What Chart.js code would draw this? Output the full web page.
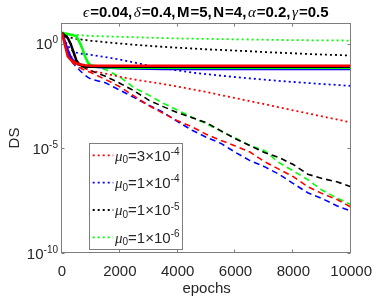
<!DOCTYPE html>
<html>
<head>
<meta charset="utf-8">
<script src="https://cdn.jsdelivr.net/npm/chart.js@4.4.1/dist/chart.umd.min.js"></script>
<style>
  body { margin: 0; background: #fff; }
  #wrap { width: 382px; height: 298px; }
</style>
</head>
<body>
<div id="wrap"><canvas id="dsChart" width="382" height="298"></canvas></div>
<script>
const epochs = [0, 100, 200, 300, 400, 500, 600, 700, 800, 900, 1000, 1500, 2000, 2500, 3000,
  3500, 4000, 4500, 5000, 5500, 6000, 6500, 7000, 7500, 8000, 8500, 9000, 9500, 10000];

// solid lines
const redSolid = [0.53, -0.05, -0.60, -0.76, -0.85, -0.92, -0.97, -1.00, -1.02, -1.03, -1.04, -1.04, -1.04, -1.04, -1.04,
  -1.04, -1.04, -1.04, -1.04, -1.04, -1.04, -1.04, -1.04, -1.04, -1.04, -1.04, -1.04, -1.04, -1.04];
const blueSolid = [0.53, 0.10, -0.30, -0.65, -0.82, -0.92, -0.98, -1.02, -1.05, -1.07, -1.08, -1.13, -1.16, -1.18, -1.19,
  -1.20, -1.20, -1.20, -1.20, -1.20, -1.20, -1.20, -1.20, -1.20, -1.20, -1.20, -1.20, -1.20, -1.20];
const blackSolid = [0.53, 0.40, 0.28, 0.00, -0.40, -0.80, -0.98, -1.05, -1.08, -1.09, -1.09, -1.09, -1.09, -1.09, -1.09,
  -1.09, -1.09, -1.09, -1.09, -1.09, -1.09, -1.09, -1.09, -1.09, -1.09, -1.09, -1.09, -1.09, -1.09];
const greenSolid = [0.53, 0.50, 0.47, 0.44, 0.41, 0.36, 0.10, -0.21, -0.60, -0.90, -1.03, -1.12, -1.14, -1.14, -1.14,
  -1.14, -1.14, -1.14, -1.14, -1.14, -1.14, -1.14, -1.14, -1.14, -1.14, -1.14, -1.14, -1.14, -1.14];

// dotted lines (the ones in the legend)
const redDotted = [0.53, 0.15, -0.25, -0.55, -0.78, -0.95, -1.05, -1.12, -1.18, -1.23, -1.28, -1.42, -1.57, -1.70, -1.81,
  -1.92, -2.04, -2.17, -2.30, -2.45, -2.59, -2.74, -2.88, -3.03, -3.18, -3.32, -3.47, -3.61, -3.76];
const blueDotted = [0.53, 0.15, -0.08, -0.27, -0.36, -0.42, -0.45, -0.47, -0.49, -0.50, -0.52, -0.63, -0.75, -0.89, -1.04,
  -1.16, -1.27, -1.37, -1.45, -1.52, -1.59, -1.65, -1.71, -1.77, -1.82, -1.87, -1.92, -1.96, -2.01];
const blackDotted = [0.53, 0.42, 0.35, 0.30, 0.27, 0.24, 0.22, 0.20, 0.19, 0.17, 0.15, 0.08, 0.02, -0.04, -0.09,
  -0.14, -0.18, -0.22, -0.26, -0.29, -0.32, -0.35, -0.39, -0.42, -0.45, -0.48, -0.51, -0.53, -0.56];
const greenDotted = [0.55, 0.50, 0.47, 0.45, 0.44, 0.43, 0.42, 0.41, 0.40, 0.39, 0.38, 0.36, 0.34, 0.32, 0.30,
  0.28, 0.26, 0.25, 0.24, 0.23, 0.22, 0.21, 0.20, 0.19, 0.18, 0.175, 0.17, 0.165, 0.16];

// dashed lines
const redDashed = [0.53, -0.05, -0.55, -0.80, -0.95, -1.05, -1.13, -1.20, -1.26, -1.32, -1.37, -1.70, -2.05, -2.50, -2.95,
  -3.32, -3.68, -3.97, -4.33, -4.62, -4.88, -5.17, -5.63, -5.99, -6.35, -6.83, -7.16, -7.43, -7.81];
const blueDashed = [0.53, 0.10, -0.40, -0.70, -0.95, -1.10, -1.25, -1.38, -1.50, -1.60, -1.68, -1.86, -2.21, -2.57, -2.93,
  -3.27, -3.72, -4.13, -4.47, -4.76, -5.19, -5.58, -5.87, -6.23, -6.68, -7.12, -7.40, -7.74, -8.00];
const blackDashed = [0.53, 0.40, 0.28, 0.00, -0.40, -0.80, -0.98, -1.08, -1.15, -1.22, -1.28, -1.55, -1.88, -2.25, -2.69,
  -3.00, -3.29, -3.53, -3.77, -4.16, -4.54, -4.86, -5.19, -5.43, -5.77, -6.23, -6.44, -6.59, -6.83];
const greenDashed = [0.53, 0.50, 0.47, 0.44, 0.41, 0.36, 0.10, -0.21, -0.60, -0.90, -1.05, -1.22, -1.58, -2.10, -2.45,
  -2.84, -3.17, -3.51, -3.82, -4.18, -4.50, -4.86, -5.10, -5.67, -6.08, -6.49, -7.00, -7.36, -7.69];

// legend: mu_0 = mantissa x 10^exponent
const muMantissa = ['3', '1', '1', '1'];
const muExponent = ['-4', '-4', '-5', '-6'];

const xTicks = [0, 2000, 4000, 6000, 8000, 10000];
const yTicks = [1e-10, 1e-5, 1];

const titleParts = [['ϵ', '=0.04,'], ['δ', '=0.4,'], ['M', '=5,'], ['N', '=4,'], ['α', '=0.2,'], ['γ', '=0.5']];

const SANS = '"Liberation Sans", Arial, Helvetica, sans-serif';
const SERIF = '"Liberation Serif", "Times New Roman", serif';
const TEXT = '#262626';
const AXIS = '#7d7d7d';

function toPoints(logs) {
  return logs.map((v, i) => ({ x: epochs[i], y: Math.pow(10, v) }));
}

const solidDash = [];
const dotDash = [2, 3];
const dashDash = [6, 4];

// first dataset is drawn on top
const datasets = [
  { data: toPoints(redSolid), borderColor: '#ff0000', borderWidth: 2.5, borderDash: solidDash },
  { data: toPoints(blackSolid), borderColor: '#000000', borderWidth: 2.5, borderDash: solidDash },
  { data: toPoints(greenSolid), borderColor: '#00ff00', borderWidth: 2.5, borderDash: solidDash },
  { data: toPoints(blueSolid), borderColor: '#0000ff', borderWidth: 2.5, borderDash: solidDash },
  { data: toPoints(redDotted), borderColor: '#ff0000', borderWidth: 1.8, borderDash: dotDash, legend: 0 },
  { data: toPoints(blueDotted), borderColor: '#0000ff', borderWidth: 1.8, borderDash: dotDash, legend: 1 },
  { data: toPoints(blackDotted), borderColor: '#000000', borderWidth: 1.8, borderDash: dotDash, legend: 2 },
  { data: toPoints(greenDotted), borderColor: '#00ff00', borderWidth: 1.8, borderDash: dotDash, legend: 3 },
  { data: toPoints(redDashed), borderColor: '#ff0000', borderWidth: 1.6, borderDash: dashDash },
  { data: toPoints(blueDashed), borderColor: '#0000ff', borderWidth: 1.6, borderDash: dashDash },
  { data: toPoints(blackDashed), borderColor: '#000000', borderWidth: 1.6, borderDash: dashDash },
  { data: toPoints(greenDashed), borderColor: '#00ff00', borderWidth: 1.6, borderDash: dashDash }
];

// box, inward ticks, y labels with exponents, legend and title (matlab look)
const matlabFrame = {
  id: 'matlabFrame',
  afterDatasetsDraw(chart) {
    const { ctx, chartArea: a, scales: { x, y } } = chart;
    ctx.save();

    // axes box
    const L = Math.round(a.left) - 0.5, R = Math.round(a.right) - 0.5;
    const T = Math.round(a.top) + 0.5, B = Math.round(a.bottom) - 0.5;
    ctx.strokeStyle = AXIS;
    ctx.lineWidth = 1;
    ctx.setLineDash([]);
    ctx.strokeRect(L, T, R - L, B - T);

    ctx.beginPath();
    xTicks.forEach(v => {
      const px = Math.round(x.getPixelForValue(v)) - 0.5;
      ctx.moveTo(px, B); ctx.lineTo(px, B - 3);
      ctx.moveTo(px, T); ctx.lineTo(px, T + 3);
    });
    yTicks.forEach(v => {
      const py = Math.round(y.getPixelForValue(v)) + 0.5;
      ctx.moveTo(L, py); ctx.lineTo(L + 3, py);
      ctx.moveTo(R, py); ctx.lineTo(R - 3, py);
    });
    ctx.stroke();

    // y tick labels 10^n
    ctx.fillStyle = TEXT;
    ctx.textBaseline = 'alphabetic';
    ctx.textAlign = 'left';
    yTicks.forEach(v => {
      const py = y.getPixelForValue(v);
      const exp = String(Math.round(Math.log10(v)));
      ctx.font = '10px ' + SANS;
      const ew = ctx.measureText(exp).width;
      ctx.font = '15px ' + SANS;
      const bw = ctx.measureText('10').width;
      const right = a.left - 4;
      ctx.fillText('10', right - ew - bw, py + 5.5);
      ctx.font = '10px ' + SANS;
      ctx.fillText(exp, right - ew, py - 0.5);
    });

    // legend box
    const lx = a.left + 27.3, ly = a.top + 120, lw = 93.4, lh = 106;
    ctx.fillStyle = '#ffffff';
    ctx.fillRect(lx, ly, lw, lh);
    ctx.strokeStyle = AXIS;
    ctx.strokeRect(Math.round(lx) + 0.5, Math.round(ly) + 0.5, Math.round(lw), Math.round(lh));
    datasets.filter(d => d.legend !== undefined).forEach(d => {
      const i = d.legend;
      const ry = ly + 12.4 + i * 27.3;
      ctx.strokeStyle = d.borderColor;
      ctx.lineWidth = d.borderWidth;
      ctx.setLineDash(d.borderDash);
      ctx.beginPath();
      ctx.moveTo(lx + 3.4, ry);
      ctx.lineTo(lx + 24, ry);
      ctx.stroke();
      ctx.setLineDash([]);

      let tx = lx + 25.7;
      ctx.fillStyle = TEXT;
      ctx.font = 'italic 15px ' + SERIF;
      ctx.fillText('μ', tx, ry + 5.4);
      tx += ctx.measureText('μ').width;
      ctx.font = '10px ' + SANS;
      ctx.fillText('0', tx, ry + 8);
      tx += ctx.measureText('0').width;
      ctx.font = '15px ' + SANS;
      const body = '=' + muMantissa[i] + '×10';
      ctx.fillText(body, tx, ry + 5.4);
      tx += ctx.measureText(body).width;
      ctx.font = '10px ' + SANS;
      ctx.fillText(muExponent[i], tx, ry - 0.5);
    });

    // title, centred on the axes
    const greekFont = 'italic 15px ' + SERIF;
    const boldFont = 'bold 15px ' + SANS;
    let total = 0;
    titleParts.forEach(([sym, val]) => {
      ctx.font = /[A-Za-z]/.test(sym) ? boldFont : greekFont;
      total += ctx.measureText(sym).width + 1;
      ctx.font = boldFont;
      total += ctx.measureText(val).width + 1.5;
    });
    let tx = (a.left + a.right) / 2 - total / 2;
    ctx.fillStyle = '#000000';
    titleParts.forEach(([sym, val]) => {
      ctx.font = /[A-Za-z]/.test(sym) ? boldFont : greekFont;
      ctx.fillText(sym, tx, 17);
      tx += ctx.measureText(sym).width + 1;
      ctx.font = boldFont;
      ctx.fillText(val, tx, 17);
      tx += ctx.measureText(val).width + 1.5;
    });

    ctx.restore();
  }
};

const ctx1 = document.getElementById('dsChart');

const dsChart = new Chart(ctx1, {
  type: 'line',
  data: {
    datasets: datasets.map(d => ({
      data: d.data,
      borderColor: d.borderColor,
      backgroundColor: d.borderColor,
      borderWidth: d.borderWidth,
      borderDash: d.borderDash,
      fill: false,
      pointRadius: 0,
      tension: 0
    }))
  },
  options: {
    responsive: false,
    animation: false,
    layout: { padding: { top: 23, right: 21.5, left: 0, bottom: 0 } },
    plugins: {
      legend: { display: false },
      tooltip: { enabled: false },
      title: { display: false }
    },
    scales: {
      x: {
        type: 'linear',
        min: 0,
        max: 10000,
        grid: { display: false, drawTicks: false },
        border: { display: false },
        afterBuildTicks: s => { s.ticks = xTicks.map(v => ({ value: v })); },
        ticks: {
          padding: 10, color: TEXT, maxRotation: 0, font: { family: SANS, size: 15 },
          callback: v => String(v)
        },
        title: { display: true, text: 'epochs', color: TEXT, font: { family: SANS, size: 15 }, padding: { top: 2, bottom: 0 } },
        afterFit: s => { s.height = 45; }
      },
      y: {
        type: 'logarithmic',
        min: 1e-10,
        max: 10,
        grid: { display: false, drawTicks: false },
        border: { display: false },
        afterBuildTicks: s => { s.ticks = yTicks.map(v => ({ value: v })); },
        ticks: { display: false },
        title: { display: true, text: 'DS', color: TEXT, font: { family: SANS, size: 15 }, padding: { top: 6, bottom: 0 } },
        afterFit: s => { s.width = 62; }
      }
    }
  },
  plugins: [matlabFrame]
});
</script>
</body>
</html>
